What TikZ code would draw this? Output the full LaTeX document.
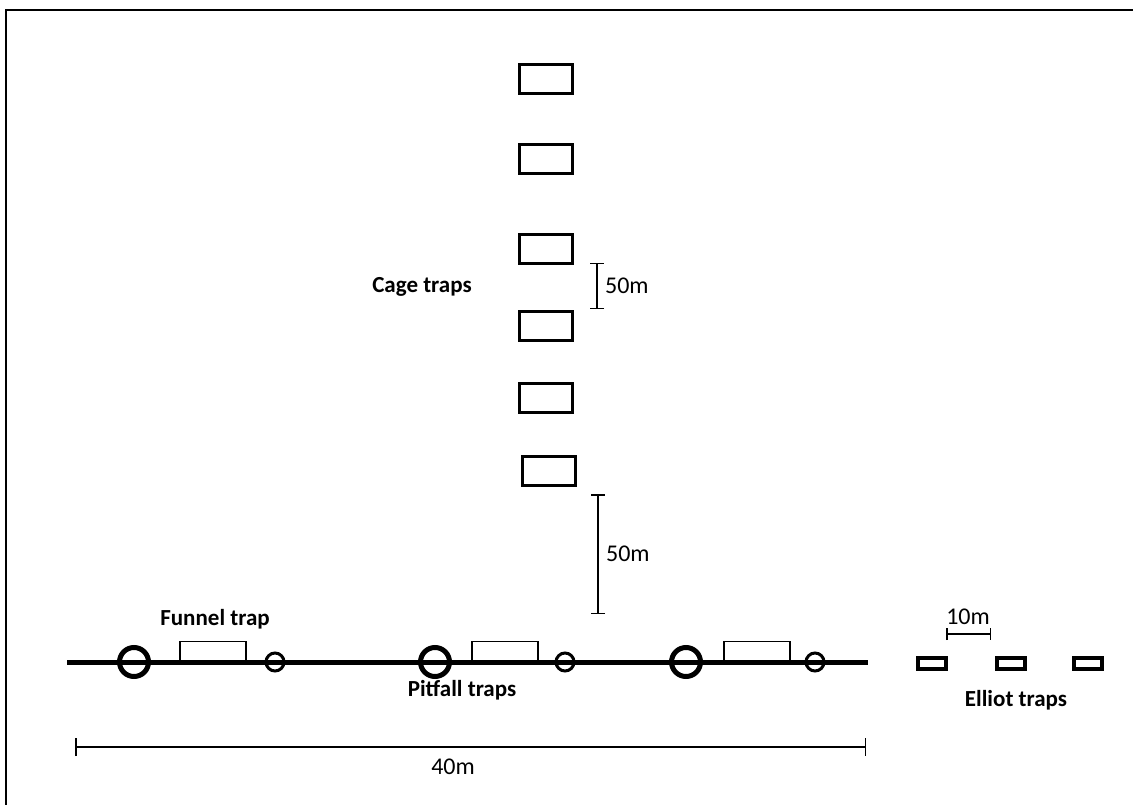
\documentclass[tikz,border=0pt]{standalone}
\usepackage{fontspec}
\setmainfont{Carlito}
\usetikzlibrary{arrows.meta}

\tikzset{
    cage/.style={draw, line width=3pt, minimum width=53pt, minimum height=29pt, inner sep=0pt},
    bigpit/.style={circle, draw, line width=5pt, minimum size=29pt, inner sep=0pt},
    smallpit/.style={circle, draw, line width=3pt, minimum size=18pt, inner sep=0pt},
    funnel/.style={draw, line width=1.5pt, minimum width=66pt, minimum height=20pt, inner sep=0pt, anchor=south},
    elliot/.style={draw, line width=4pt, minimum width=28pt, minimum height=11pt, inner sep=0pt},
    scalebar/.style={line width=1.5pt, {Bar[width=14pt]}-{Bar[width=14pt]}},
    title/.style={font=\fontsize{23}{27}\selectfont\bfseries},
    dist/.style={font=\fontsize{24}{28}\selectfont}
}

\begin{document}
\begin{tikzpicture}[x=1pt, y=-1pt]
    \useasboundingbox (0,0) rectangle (1133,805);

    % Frame
    \draw[line width=2.5pt] (6,805) -- (6,10) -- (1133,10);

    % Cage traps
    \node[cage] (cage1) at (546,79) {};
    \node[cage] (cage2) at (546,159) {};
    \node[cage] (cage3) at (546,249) {};
    \node[cage] (cage4) at (546,326) {};
    \node[cage] (cage5) at (546,398) {};
    \node[cage] (cage6) at (549,471) {};
    \node[title] (cagelabel) at (422,287) {Cage traps};

    % Distances between cage traps
    \coordinate (gapAtop) at (597,263);
    \coordinate (gapAbot) at (597,309);
    \draw[scalebar] (gapAtop) -- (gapAbot) node[midway, right, dist, xshift=4pt] {50m};
    \coordinate (gapBtop) at (598,494);
    \coordinate (gapBbot) at (598,614);
    \draw[scalebar] (gapBtop) -- (gapBbot) node[midway, right, dist, xshift=4pt] {50m};

    % Transect line
    \coordinate (lineW) at (67,662);
    \coordinate (lineE) at (868,662);
    \draw[line width=5pt] (lineW) -- (lineE);

    % Pitfall traps
    \node[bigpit] (pitA1) at (134,662) {};
    \node[smallpit] (pitA2) at (275,662) {};
    \node[bigpit] (pitB1) at (435,662) {};
    \node[smallpit] (pitB2) at (565,662) {};
    \node[bigpit] (pitC1) at (686,662) {};
    \node[smallpit] (pitC2) at (815,662) {};

    % Funnel traps
    \node[funnel] (funA) at (213,662) {};
    \node[funnel] (funB) at (505,662) {};
    \node[funnel] (funC) at (757,662) {};

    % Labels
    \node[title] (funlabel) at (215,619) {Funnel trap};
    \node[title] (pitlabel) at (462,690) {Pitfall traps};

    % Length of transect
    \coordinate (lenW) at (75,747);
    \coordinate (lenE) at (866,747);
    \draw[scalebar, {Bar[width=18pt]}-{Bar[width=18pt]}] (lenW) -- (lenE);
    \node[dist] (lenlabel) at (453,767) {40m};

    % Elliot traps
    \node[elliot] (ellA) at (932,663) {};
    \node[elliot] (ellB) at (1011,663) {};
    \node[elliot] (ellC) at (1088,663) {};
    \node[title] (elllabel) at (1016,700) {Elliot traps};

    % Distance between Elliot traps
    \coordinate (ellgapW) at (946,634);
    \coordinate (ellgapE) at (991,634);
    \draw[scalebar, {Bar[width=12pt]}-{Bar[width=12pt]}] (ellgapW) -- (ellgapE);
    \node[dist] (ellgaplabel) at (968,617) {10m};
\end{tikzpicture}
\end{document}
